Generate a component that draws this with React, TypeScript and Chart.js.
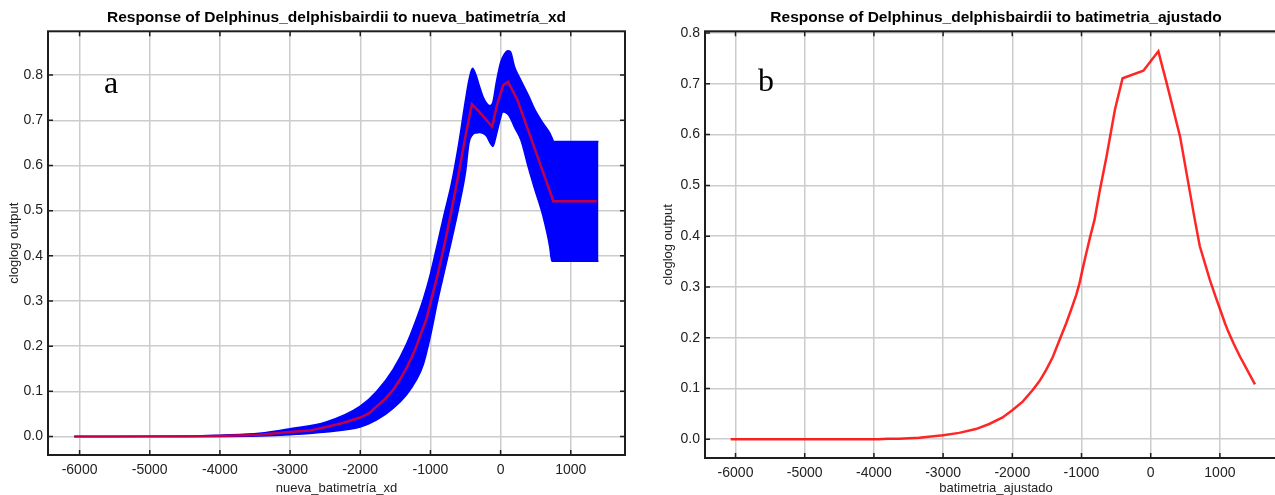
import React, { useEffect, useRef } from 'react';
import { Chart, registerables } from 'chart.js';

Chart.register(...registerables);

const FONT = '"Liberation Sans", Arial, Helvetica, sans-serif';

// ---- Tick values (shared by both panels) ----
const xTickValues = [-6000, -5000, -4000, -3000, -2000, -1000, 0, 1000];
const yTickValues = [0.0, 0.1, 0.2, 0.3, 0.4, 0.5, 0.6, 0.7, 0.8];

// ---- Panel a: Response of Delphinus_delphisbairdii to nueva_batimetría_xd ----
const aMeanX = [-6076, -5000, -4500, -4000, -3438, -3000, -2724, -2486, -2248, -2000, -1867, -1771, -1652, -1533, -1438, -1343, -1271, -1200, -1129, -1057, -986, -900, -800, -700, -600, -500, -409, -300, -200, -120, -50, 38, 106, 240, 400, 500, 610, 752, 1371];
const aMeanY = [0.0, 0.0, 0.0, 0.001, 0.004, 0.01, 0.013, 0.021, 0.03, 0.042, 0.052, 0.066, 0.082, 0.103, 0.125, 0.151, 0.174, 0.2, 0.23, 0.26, 0.304, 0.356, 0.425, 0.5, 0.58, 0.665, 0.736, 0.718, 0.7, 0.686, 0.735, 0.778, 0.785, 0.745, 0.675, 0.631, 0.583, 0.521, 0.521];

const aBandX = [-6076, -4420, -4000, -3438, -3000, -2486, -2000, -1771, -1533, -1343, -1200, -1100, -1000, -900, -800, -700, -600, -500, -450, -400, -350, -300, -250, -200, -150, -110, -60, 0, 30, 100, 140, 200, 288, 400, 481, 600, 700, 730, 760, 1395];
const aBandUpper = [0.0, 0.001, 0.003, 0.007, 0.017, 0.032, 0.067, 0.099, 0.148, 0.204, 0.26, 0.305, 0.36, 0.427, 0.495, 0.56, 0.645, 0.745, 0.79, 0.815, 0.8, 0.775, 0.752, 0.738, 0.732, 0.74, 0.785, 0.828, 0.84, 0.854, 0.852, 0.818, 0.789, 0.754, 0.726, 0.695, 0.672, 0.662, 0.653, 0.653];
const aBandLower = [0.0, 0.0, 0.0, 0.001, 0.004, 0.01, 0.021, 0.036, 0.062, 0.092, 0.125, 0.16, 0.222, 0.298, 0.366, 0.433, 0.504, 0.585, 0.65, 0.668, 0.672, 0.673, 0.671, 0.665, 0.65, 0.642, 0.668, 0.705, 0.719, 0.714, 0.705, 0.684, 0.657, 0.593, 0.55, 0.49, 0.42, 0.388, 0.388, 0.388];

// ---- Panel b: Response of Delphinus_delphisbairdii to batimetria_ajustado ----
const bX = [-6070, -4500, -3928, -3800, -3638, -3348, -3000, -2768, -2527, -2333, -2140, -2000, -1850, -1705, -1609, -1512, -1415, -1319, -1222, -1150, -1077, -1029, -981, -932, -874, -812, -734, -638, -517, -406, -106, 111, 232, 425, 638, 710, 783, 855, 940, 1005, 1075, 1121, 1200, 1290, 1400, 1507];
const bY = [0.0, 0.0, 0.0, 0.001, 0.001, 0.003, 0.008, 0.0125, 0.02, 0.03, 0.043, 0.057, 0.074, 0.097, 0.114, 0.136, 0.162, 0.195, 0.228, 0.255, 0.284, 0.307, 0.337, 0.366, 0.399, 0.432, 0.491, 0.557, 0.649, 0.711, 0.726, 0.764, 0.701, 0.596, 0.432, 0.38, 0.347, 0.314, 0.28, 0.255, 0.228, 0.212, 0.188, 0.163, 0.135, 0.108];

const framePlugin = {
  id: 'frame',
  afterDatasetsDraw(chart: any, _args: any, opts: any) {
    const { ctx, chartArea, scales } = chart;
    const { left, right, top, bottom } = chartArea;
    ctx.save();
    ctx.strokeStyle = '#1e1e1e';
    ctx.lineWidth = 1.5;
    const tl = 5;
    ctx.beginPath();
    for (const t of scales.x.ticks) {
      const px = scales.x.getPixelForValue(t.value);
      ctx.moveTo(px, top);
      ctx.lineTo(px, top + tl);
      ctx.moveTo(px, bottom);
      ctx.lineTo(px, bottom - tl);
    }
    for (const t of scales.y.ticks) {
      const py = scales.y.getPixelForValue(t.value);
      ctx.moveTo(left, py);
      ctx.lineTo(left + tl, py);
      ctx.moveTo(right, py);
      ctx.lineTo(right - tl, py);
    }
    ctx.stroke();
    ctx.lineWidth = 2;
    ctx.strokeRect(left, top, right - left, bottom - top);
    if (opts && opts.letter) {
      ctx.fillStyle = '#000';
      ctx.font = '32px "Liberation Serif", "Times New Roman", serif';
      ctx.textBaseline = 'alphabetic';
      ctx.textAlign = 'left';
      ctx.fillText(opts.letter, left + opts.dx, top + opts.dy);
    }
    ctx.restore();
  },
};

function pts(xs: number[], ys: number[]) {
  return xs.map((x, i) => ({ x, y: ys[i] }));
}

function makeOptions(p: any) {
  return {
    responsive: false,
    animation: false,
    devicePixelRatio: 1,
    layout: { padding: { left: 0, right: p.padRight, top: 0, bottom: 0 } },
    plugins: {
      legend: { display: false },
      tooltip: { enabled: false },
      title: {
        display: true,
        text: p.title,
        fullSize: false,
        color: '#000',
        font: { family: FONT, size: 15.5, weight: 'bold', lineHeight: 1.2 },
        padding: { top: 8.7, bottom: 4 },
      },
      frame: { letter: p.letter, dx: p.letterDx, dy: p.letterDy },
    },
    scales: {
      x: {
        type: 'linear',
        min: p.xMin,
        max: p.xMax,
        afterBuildTicks: (s: any) => { s.ticks = xTickValues.map((v) => ({ value: v })); },
        afterFit: (s: any) => { s.height = p.xAxisHeight; },
        ticks: {
          autoSkip: false,
          maxRotation: 0,
          padding: 7,
          color: '#222',
          font: { family: FONT, size: 14 },
          callback: (v: any) => String(v),
        },
        grid: { color: '#cccccc', lineWidth: 1.5, drawTicks: false },
        border: { display: false },
        title: {
          display: true,
          text: p.xTitle,
          color: '#222',
          font: { family: FONT, size: 13, lineHeight: 1 },
          padding: { top: 0, bottom: 0 },
        },
      },
      y: {
        type: 'linear',
        min: p.yMin,
        max: p.yMax,
        afterBuildTicks: (s: any) => { s.ticks = yTickValues.map((v) => ({ value: v })); },
        afterFit: (s: any) => { s.width = p.yAxisWidth; },
        ticks: {
          autoSkip: false,
          padding: 5,
          color: '#222',
          font: { family: FONT, size: 14 },
          callback: (v: any) => Number(v).toFixed(1),
        },
        grid: { color: '#cccccc', lineWidth: 1.5, drawTicks: false },
        border: { display: false },
        title: {
          display: true,
          text: 'cloglog output',
          color: '#222',
          font: { family: FONT, size: 13, lineHeight: 1 },
          padding: { top: p.yTitleOffset, bottom: 0 },
        },
      },
    },
  };
}

function configA() {
  return {
    type: 'line',
    data: {
      datasets: [
        { data: pts(aMeanX, aMeanY), borderColor: 'rgba(240,0,30,0.8)', borderWidth: 2.5, pointRadius: 0, fill: false, tension: 0 },
        { data: pts(aBandX, aBandUpper), borderColor: '#0000ff', backgroundColor: '#0000ff', borderWidth: 1.5, pointRadius: 0, fill: '+1', cubicInterpolationMode: 'monotone' },
        { data: pts(aBandX, aBandLower), borderColor: '#0000ff', borderWidth: 1.5, pointRadius: 0, fill: false, cubicInterpolationMode: 'monotone' },
      ],
    },
    options: makeOptions({
      title: 'Response of Delphinus_delphisbairdii to nueva_batimetría_xd',
      xTitle: 'nueva_batimetría_xd',
      letter: 'a', letterDx: 56, letterDy: 62,
      padRight: 15, xAxisHeight: 40, yAxisWidth: 48, yTitleOffset: 7.5,
      xMin: -6450, xMax: 1773, yMin: -0.041, yMax: 0.897,
    }),
    plugins: [framePlugin],
  };
}

function configB() {
  return {
    type: 'line',
    data: {
      datasets: [
        { data: pts(bX, bY), borderColor: 'rgba(255,0,0,0.85)', borderWidth: 2.5, pointRadius: 0, fill: false, tension: 0 },
      ],
    },
    options: makeOptions({
      title: 'Response of Delphinus_delphisbairdii to batimetria_ajustado',
      xTitle: 'batimetria_ajustado',
      letter: 'b', letterDx: 53, letterDy: 60,
      padRight: 13, xAxisHeight: 37, yAxisWidth: 65, yTitleOffset: 21.5,
      xMin: -6441, xMax: 1970, yMin: -0.037, yMax: 0.8035,
    }),
    plugins: [framePlugin],
  };
}

function Panel({ make, left, width }: { make: () => any; left: number; width: number }) {
  const ref = useRef<HTMLCanvasElement>(null);
  useEffect(() => {
    const chart = new Chart(ref.current as HTMLCanvasElement, make() as any);
    return () => chart.destroy();
  }, []);
  return (
    <canvas
      ref={ref}
      width={width}
      height={495}
      style={{ position: 'absolute', left, top: 0, width, height: 495, display: 'block' }}
    />
  );
}

export default function App() {
  return (
    <div style={{ position: 'fixed', left: 0, top: 0, width: 1275, height: 495, overflow: 'hidden', background: '#fff' }}>
      <Panel make={configA} left={0} width={640} />
      <Panel make={configB} left={640} width={660} />
    </div>
  );
}
